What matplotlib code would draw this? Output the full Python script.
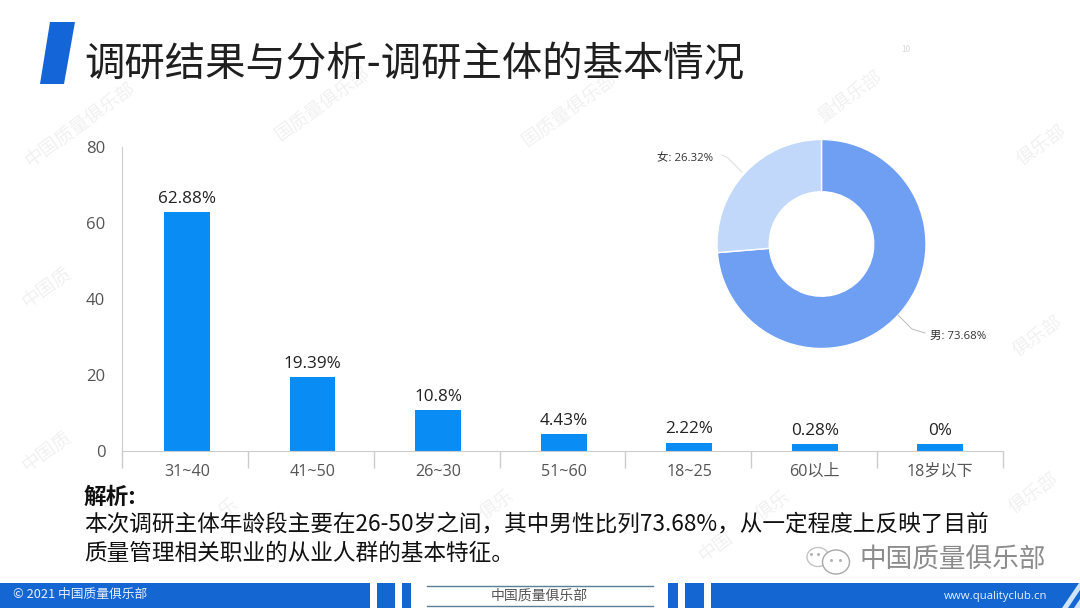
import matplotlib
matplotlib.use('Agg')
import matplotlib.pyplot as plt
from matplotlib.patches import Polygon, Rectangle, Ellipse

plt.rcParams['font.family'] = ['Noto Sans CJK SC', 'DejaVu Sans']

W, H = 1080, 608

# data
age_groups = ['31~40', '41~50', '26~30', '51~60', '18~25', '60以上', '18岁以下']
bar_heights = [62.88, 19.39, 10.8, 4.43, 2.22, 1.8, 1.8]
bar_labels = ['62.88%', '19.39%', '10.8%', '4.43%', '2.22%', '0.28%', '0%']
y_ticks = [0, 20, 40, 60, 80]
gender = ['男', '女']
gender_share = [73.68, 26.32]

title = '调研结果与分析-调研主体的基本情况'
note_head = '解析:'
note_lines = ['本次调研主体年龄段主要在26-50岁之间，其中男性比列73.68%，从一定程度上反映了目前',
              '质量管理相关职业的从业人群的基本特征。']
brand = '中国质量俱乐部'
# watermark pieces, most of them are covered in the original
wm_spots = [(80, 125, '中国质量俱乐部'), (323, 104, '国质量俱乐部'), (570, 110, '国质量俱乐部'),
            (850, 97, '量俱乐部'), (1042, 145, '俱乐部'), (47, 288, '中国质'), (47, 452, '中国质'),
            (1038, 336, '俱乐部'), (1034, 493, '俱乐部'), (228, 508, '乐'), (497, 505, '俱乐'),
            (716, 547, '中国'), (773, 506, '俱乐')]

BLUE = '#0A8CF5'
BAND = '#1466D2'
LATIN = ['Open Sans', 'Noto Sans CJK SC']


def box(x0, y0, x1, y1):
    # pixel box to figure fractions
    return [x0 / W, 1 - y1 / H, (x1 - x0) / W, (y1 - y0) / H]


fig = plt.figure(figsize=(W / 100, H / 100), dpi=100, facecolor='white')

# background layer in pixel coordinates
bg = fig.add_axes([0, 0, 1, 1], zorder=0)
bg.set_xlim(0, W)
bg.set_ylim(H, 0)
bg.axis('off')

for x, y, s in wm_spots:
    bg.text(x, y, s, fontsize=13.5, color='#F1F1F1', rotation=36,
            ha='center', va='center', rotation_mode='anchor')

bg.add_patch(Polygon([(50, 22), (75, 22), (64, 84), (40, 84)], color='#1466D8', lw=0))
bg.text(84, 65, title, fontsize=29.1, color='#1F1F1F', ha='left', va='center')
bg.text(906, 50, '10', fontsize=6, color='#D8D8D8', ha='center', va='center')

# bar chart
ax = fig.add_axes(box(122, 147, 1003, 451), zorder=1)
ax.patch.set_alpha(0)
x_pos = list(range(len(age_groups)))
ax.bar(x_pos, bar_heights, width=0.365, color=BLUE, zorder=2)
for i, lab in enumerate(bar_labels):
    ax.text(i, bar_heights[i] + 1.4, lab, fontsize=12.3, color='#222222',
            ha='center', va='bottom', family=LATIN)
left, right = -0.518, 6.5
ax.set_xlim(left, right)
ax.set_ylim(0, 80)
ax.set_yticks(y_ticks)
ax.tick_params(axis='y', length=0, pad=12)
for lab in ax.get_yticklabels():
    lab.set(fontsize=12, color='#555555', family=LATIN)
ax.set_xticks(x_pos)
ax.set_xticklabels(age_groups, fontsize=11.6, color='#555555', family=LATIN)
ax.tick_params(axis='x', length=0, pad=9)
ax.set_xticks([left + i * (right - left) / 7 for i in range(8)], minor=True)
ax.tick_params(axis='x', which='minor', length=12, color='#CCCCCC', width=1)
for s in ['top', 'right']:
    ax.spines[s].set_visible(False)
for s in ['left', 'bottom']:
    ax.spines[s].set_color('#CCCCCC')

# donut
ax2 = fig.add_axes(box(717, 139.5, 926, 348.5), zorder=1)
ax2.pie(gender_share, colors=['#6F9FF3', '#C2D8FA'], startangle=90, counterclock=False,
        radius=1, wedgeprops=dict(width=0.5, edgecolor='white', linewidth=1))
ax2.set_xlim(-1, 1)
ax2.set_ylim(-1, 1)

# notes and footer on top
fg = fig.add_axes([0, 0, 1, 1], zorder=2)
fg.set_xlim(0, W)
fg.set_ylim(H, 0)
fg.axis('off')

fg.plot([742, 728, 722], [172, 158, 155], color='#DDDDDD', lw=0.7)
fg.plot([898, 912, 925], [315, 329, 333], color='#BBBBBB', lw=0.7)
fg.text(657, 159, f'{gender[1]}: {gender_share[1]}%', fontsize=8.2, color='#333333',
        va='center', family=LATIN)
fg.text(930, 336, f'{gender[0]}: {gender_share[0]}%', fontsize=8.2, color='#333333',
        va='center', family=LATIN)

fg.text(84, 497, note_head, fontsize=16.3, fontweight='bold', color='#111111', va='center')
fg.text(84, 524, note_lines[0], fontsize=16.3, color='#111111', va='center')
fg.text(84, 553, note_lines[1], fontsize=16.3, color='#111111', va='center')

# wechat mark
fg.add_patch(Ellipse((818, 557), 22, 19, fc='white', ec='#C4C4C4', lw=1))
fg.add_patch(Ellipse((836, 562), 27, 24, fc='white', ec='#A8A8A8', lw=1))
fg.plot([811, 818, 831, 840], [554, 554, 560, 560], ls='', marker='o', ms=1.2, color='#B5B5B5')
fg.text(859, 560, brand, fontsize=19.2, color='#8C8C8C', va='center')

# footer band
fg.add_patch(Rectangle((0, 583), W, 25, color=BAND, lw=0))
for x0, x1 in [(370, 377), (395, 402), (411, 668), (678, 685), (704, 711)]:
    fg.add_patch(Rectangle((x0, 583), x1 - x0, 25, color='white', lw=0))
fg.plot([427, 653], [586, 586], color='#5A7F96', lw=1)
fg.plot([427, 653], [606, 606], color='#5A7F96', lw=1)
fg.add_patch(Polygon([(1062, 608), (1079, 583), (1080, 583), (1080, 590), (1068, 608)], color='#CFE4FA', lw=0))
fg.add_patch(Polygon([(1074, 608), (1080, 599), (1080, 608)], color='#CFE4FA', lw=0))
fg.text(13, 594.5, '© 2021 中国质量俱乐部', fontsize=9.2, color='#E6F0FC', va='center')
fg.text(539, 596, brand, fontsize=10, color='#555555', ha='center', va='center')
fg.text(1047, 596, 'www.qualityclub.cn', fontsize=8.2, color='#E6F0FC', ha='right', va='center', family=LATIN)

fig.savefig('out.png', dpi=100)
